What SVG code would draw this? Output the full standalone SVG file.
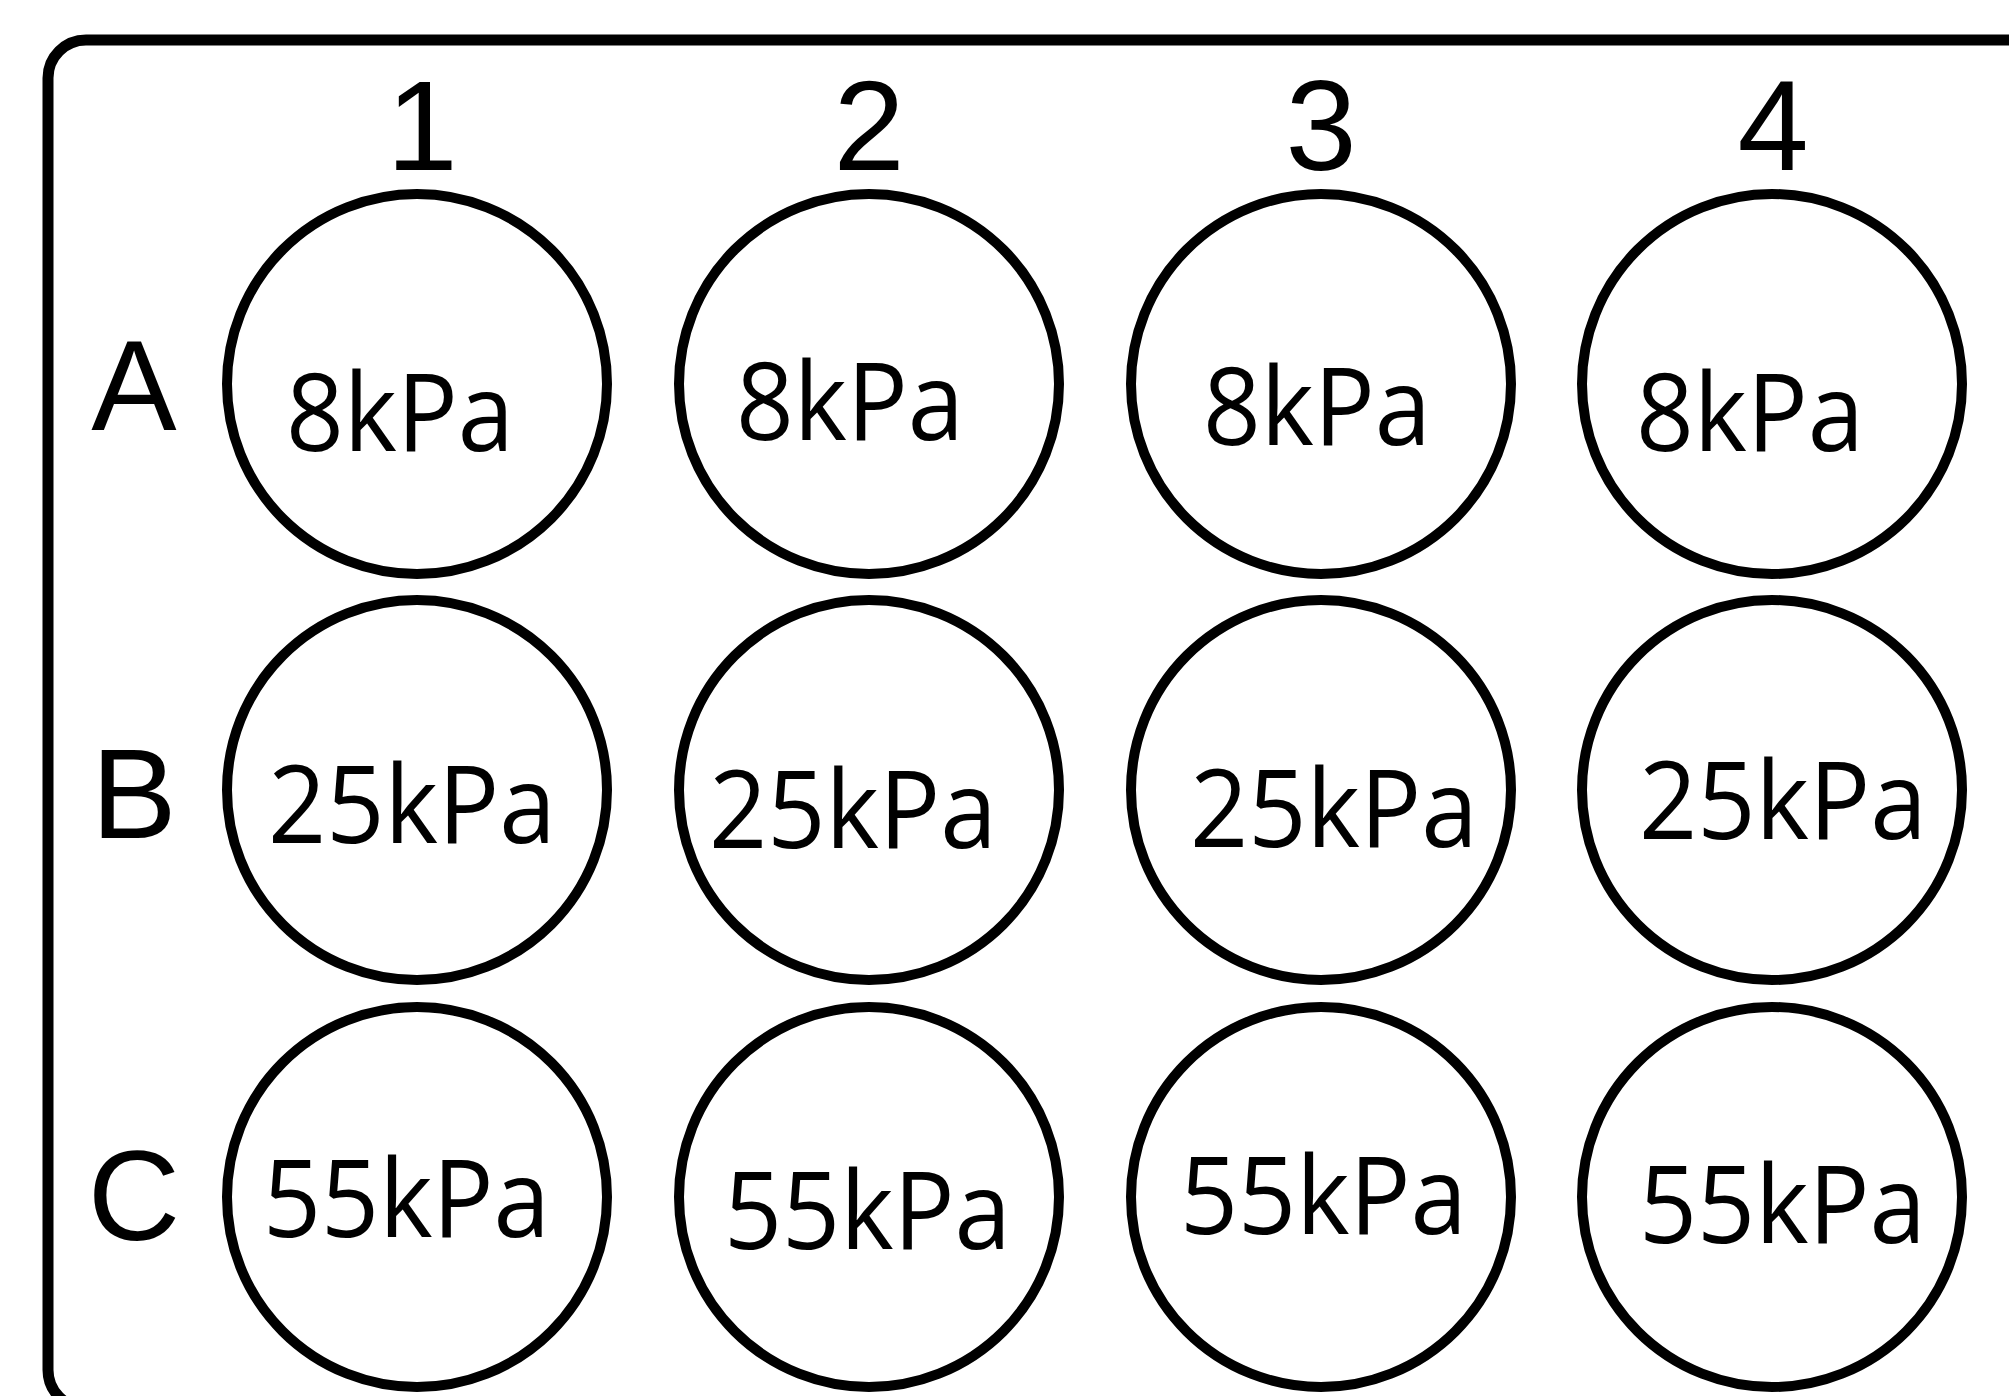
<svg xmlns="http://www.w3.org/2000/svg" width="2009" height="1396" viewBox="0 0 2009 1396">
<style>
.well{fill:#fff;stroke:#000;stroke-width:10}
.frame{fill:#fff;stroke:#000;stroke-width:11}
.hdr{font-family:"Liberation Sans",Arial,sans-serif;font-size:128px;fill:#000;text-anchor:middle}
.val{font-family:"Open Sans","Noto Sans",sans-serif;font-size:108px;fill:#000}
</style>
<rect width="2009" height="1396" fill="#fff"/>
<g id="plate"><rect class="frame" x="48" y="40" width="2100" height="1368" rx="38" ry="38"/></g>
<g id="col-labels">
<text class="hdr" x="422" y="170">1</text>
<text class="hdr" x="869" y="170">2</text>
<text class="hdr" x="1321" y="170">3</text>
<text class="hdr" x="1773" y="170">4</text>
</g>
<g id="row-labels">
<text class="hdr" x="134" y="430">A</text>
<text class="hdr" x="134" y="838">B</text>
<text class="hdr" x="134" y="1240">C</text>
</g>
<g id="A1"><circle class="well" cx="417" cy="384" r="190"/><text class="val" x="286" y="451" textLength="228" lengthAdjust="spacingAndGlyphs">8kPa</text></g>
<g id="A2"><circle class="well" cx="869" cy="384" r="190"/><text class="val" x="736" y="440" textLength="228" lengthAdjust="spacingAndGlyphs">8kPa</text></g>
<g id="A3"><circle class="well" cx="1321" cy="384" r="190"/><text class="val" x="1203" y="445" textLength="228" lengthAdjust="spacingAndGlyphs">8kPa</text></g>
<g id="A4"><circle class="well" cx="1772" cy="384" r="190"/><text class="val" x="1636" y="451" textLength="228" lengthAdjust="spacingAndGlyphs">8kPa</text></g>
<g id="B1"><circle class="well" cx="417" cy="790" r="190"/><text class="val" x="268" y="843" textLength="288" lengthAdjust="spacingAndGlyphs">25kPa</text></g>
<g id="B2"><circle class="well" cx="869" cy="790" r="190"/><text class="val" x="709" y="848" textLength="288" lengthAdjust="spacingAndGlyphs">25kPa</text></g>
<g id="B3"><circle class="well" cx="1321" cy="790" r="190"/><text class="val" x="1190" y="847" textLength="288" lengthAdjust="spacingAndGlyphs">25kPa</text></g>
<g id="B4"><circle class="well" cx="1772" cy="790" r="190"/><text class="val" x="1639" y="839" textLength="288" lengthAdjust="spacingAndGlyphs">25kPa</text></g>
<g id="C1"><circle class="well" cx="417" cy="1197" r="190"/><text class="val" x="263" y="1237" textLength="287" lengthAdjust="spacingAndGlyphs">55kPa</text></g>
<g id="C2"><circle class="well" cx="869" cy="1197" r="190"/><text class="val" x="724" y="1249" textLength="287" lengthAdjust="spacingAndGlyphs">55kPa</text></g>
<g id="C3"><circle class="well" cx="1321" cy="1197" r="190"/><text class="val" x="1180" y="1234" textLength="287" lengthAdjust="spacingAndGlyphs">55kPa</text></g>
<g id="C4"><circle class="well" cx="1772" cy="1197" r="190"/><text class="val" x="1639" y="1243" textLength="287" lengthAdjust="spacingAndGlyphs">55kPa</text></g>
<g id="connectors"></g>
</svg>
